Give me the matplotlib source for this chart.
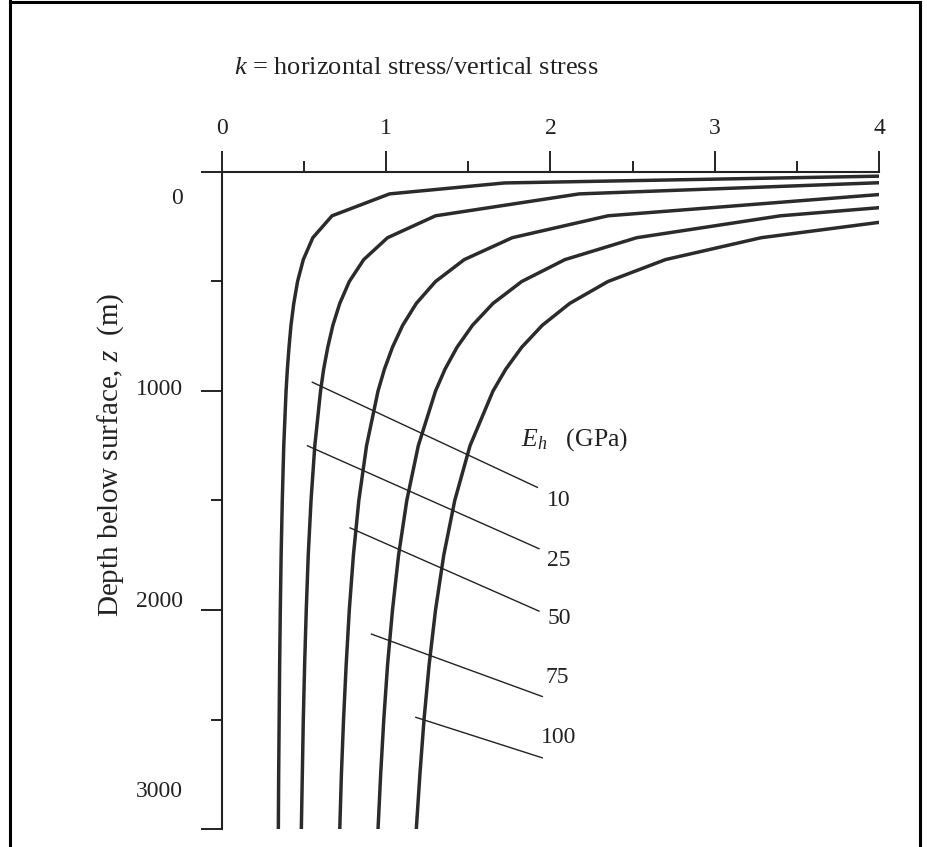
import matplotlib.pyplot as plt
from matplotlib.lines import Line2D
from matplotlib.ticker import MultipleLocator

plt.rcParams['font.family'] = 'Liberation Serif'
plt.rcParams['mathtext.fontset'] = 'custom'
plt.rcParams['mathtext.rm'] = 'Liberation Serif'
plt.rcParams['mathtext.it'] = 'Liberation Serif:italic'

# curves: depth z (m) and k, one pair per Eh (GPa)
eh_labels = ['10', '25', '50', '75', '100']

z_10 = [19, 50, 100, 200, 300, 400, 500, 600, 700, 800, 900, 1000, 1250, 1500, 1750, 2000, 2250, 2500, 2750, 3000]
k_10 = [4.0, 1.72, 1.02, 0.67, 0.553, 0.495, 0.46, 0.437, 0.42, 0.408, 0.398, 0.39, 0.376, 0.367, 0.36, 0.355,
        0.351, 0.348, 0.345, 0.343]

z_25 = [49, 100, 200, 300, 400, 500, 600, 700, 800, 900, 1000, 1250, 1500, 1750, 2000, 2250, 2500, 2750, 3000]
k_25 = [4.0, 2.175, 1.30, 1.008, 0.863, 0.775, 0.717, 0.675, 0.644, 0.619, 0.60, 0.565, 0.542, 0.525, 0.513,
        0.503, 0.495, 0.489, 0.483]

z_50 = [103, 200, 300, 400, 500, 600, 700, 800, 900, 1000, 1250, 1500, 1750, 2000, 2250, 2500, 2750, 3000]
k_50 = [4.0, 2.35, 1.767, 1.475, 1.30, 1.183, 1.10, 1.038, 0.989, 0.95, 0.88, 0.833, 0.80, 0.775, 0.756,
        0.74, 0.727, 0.717]

z_75 = [163, 200, 300, 400, 500, 600, 700, 800, 900, 1000, 1250, 1500, 1750, 2000, 2250, 2500, 2750, 3000]
k_75 = [4.0, 3.40, 2.525, 2.088, 1.825, 1.65, 1.525, 1.431, 1.358, 1.30, 1.195, 1.125, 1.075, 1.038, 1.008,
        0.985, 0.966, 0.95]

z_100 = [230, 300, 400, 500, 600, 700, 800, 900, 1000, 1250, 1500, 1750, 2000, 2250, 2500, 2750, 3000]
k_100 = [4.0, 3.283, 2.70, 2.35, 2.117, 1.95, 1.825, 1.728, 1.65, 1.51, 1.417, 1.35, 1.30, 1.261, 1.23,
         1.205, 1.183]

# leader lines (start, end) and label anchors
lead_k = [(0.55, 1.92), (0.52, 1.93), (0.78, 1.93), (0.91, 1.95), (1.18, 1.95)]
lead_z = [(960, 1440), (1250, 1720), (1625, 2005), (2110, 2395), (2490, 2675)]
label_k = [1.98, 1.98, 1.98, 1.97, 1.94]
label_z = [1500, 1775, 2040, 2310, 2580]

ytick_vals = [0, 1000, 2000, 3000]
ytick_text_z = [119, 995, 1963, 2831]

fig = plt.figure(figsize=(9.28, 8.47), dpi=100)
ax = fig.add_axes([222 / 928, 18 / 847, 657 / 928, 657 / 847])

curve_col = '#2b2b2b'
for z, k in [(z_10, k_10), (z_25, k_25), (z_50, k_50), (z_75, k_75), (z_100, k_100)]:
    ax.plot(k, z, color=curve_col, lw=2.5, solid_joinstyle='round')

for (k0, k1), (z0, z1), lab, lk, lz in zip(lead_k, lead_z, eh_labels, label_k, label_z):
    ax.plot([k0, k1], [z0, z1], color='#222222', lw=1.0)
    ax.text(lk, lz, lab, fontsize=17, ha='left', va='center', color='#222222')

ax.text(1.82, 1224, '$E_h$   (GPa)', fontsize=18.5, ha='left', va='center', color='#222222')

ax.set_xlim(0, 4)
ax.set_ylim(3000, 0)
ax.xaxis.tick_top()
ax.set_xticks([0, 1, 2, 3, 4])
ax.xaxis.set_minor_locator(MultipleLocator(0.5))
ax.set_yticks(ytick_vals)
ax.set_yticklabels([])
ax.yaxis.set_minor_locator(MultipleLocator(500))
ax.tick_params(axis='x', which='major', length=15, width=1.4, pad=9, labelsize=17, colors='#222222')
ax.tick_params(axis='x', which='minor', length=8, width=1.4, colors='#222222')
ax.tick_params(axis='y', which='major', length=15, width=1.4, colors='#222222')
ax.tick_params(axis='y', which='minor', length=8, width=1.4, colors='#222222')

for s in ['bottom', 'right']:
    ax.spines[s].set_visible(False)
for s in ['top', 'left']:
    ax.spines[s].set_linewidth(1.5)
    ax.spines[s].set_color('#222222')

for v, tz in zip(ytick_vals, ytick_text_z):
    ax.text(-0.059, tz, str(v), transform=ax.get_yaxis_transform(),
            fontsize=17, ha='right', va='center', color='#222222')

fig.text(111 / 928, 1 - 455 / 847, 'Depth below surface, $z$  (m)', rotation=90,
         fontsize=21, ha='center', va='center', color='#222222')
fig.text(416 / 928, 1 - 68 / 847, '$k$ = horizontal stress/vertical stress',
         fontsize=19, ha='center', va='center', color='#222222')

# scan border
for xs, ys in [([10, 10], [0, 847]), ([10, 920], [2, 2]), ([920, 920], [2, 847])]:
    fig.add_artist(Line2D([x / 928 for x in xs], [1 - y / 847 for y in ys],
                          transform=fig.transFigure, color='black', lw=2.2))

fig.savefig('out.png', dpi=100)
